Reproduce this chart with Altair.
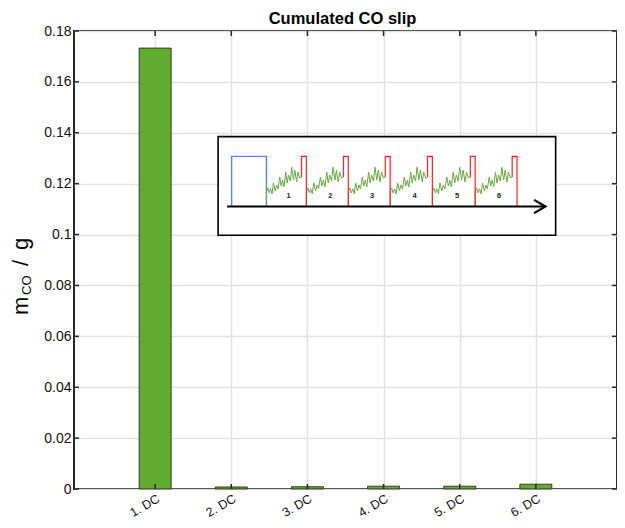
import altair as alt
import pandas as pd

# ---------------- data ----------------
categories = ["1. DC", "2. DC", "3. DC", "4. DC", "5. DC", "6. DC"]
cat_pos = [1, 2, 3, 4, 5, 6]
co_slip = [0.1733, 0.0008, 0.0009, 0.0011, 0.0011, 0.0019]
y_ticks = [0, 0.02, 0.04, 0.06, 0.08, 0.1, 0.12, 0.14, 0.16, 0.18]
chart_title = "Cumulated CO slip"

# inset schematic, local units: sx 0..349 across the box, sy 0..100 up the box
box_data = {"x0": 1.827, "x1": 6.26, "y0": 0.0997, "y1": 0.1385}
box_w, box_h = 349.3, 100.0
axis_sy = 29.2
arrow_sx = [9.3, 338.7]
arrow_head_sx = [327.0, 338.7, 327.0]
arrow_head_sy = [35.9, 29.2, 22.5]
blue_sx = [14, 14, 50, 50]
blue_sy = [29.2, 80, 80, 29.2]
green_start = [50, 91.3, 134.7, 178, 221.7, 266]
red_rise = [86.3, 129.7, 173, 216.7, 261, 304.3]
red_fall = [91.3, 134.7, 178, 221.7, 266, 309.3]
red_top = 80
green_t = [0, 0, 0.04, 0.08, 0.12, 0.16, 0.20, 0.25, 0.29, 0.33, 0.38, 0.42, 0.46,
           0.50, 0.55, 0.59, 0.63, 0.68, 0.72, 0.77, 0.81, 0.86, 0.90, 0.95, 1.0]
green_sy = [29.2, 44, 48, 43, 47, 42, 53, 45, 51, 47, 59, 50, 56,
            49, 64, 53, 61, 55, 69, 56, 66, 54, 64, 58, 59]
cycle_labels = ["1", "2", "3", "4", "5", "6"]
label_sx = [73, 116, 159.3, 203.3, 247.3, 290.7]
label_sy = 40

W, H = 543, 458
FONT = "Liberation Sans"


def bx(sx):
    return box_data["x0"] + sx / box_w * (box_data["x1"] - box_data["x0"])


def by(sy):
    return box_data["y0"] + sy / box_h * (box_data["y1"] - box_data["y0"])


# ---------------- tables ----------------
bars = pd.DataFrame({"x": cat_pos, "y": co_slip, "cat": categories})
box_df = pd.DataFrame({"x": [box_data["x0"]], "x2": [box_data["x1"]],
                       "y": [box_data["y0"]], "y2": [box_data["y1"]]})

arrow_rows = [{"x": bx(s), "y": by(axis_sy), "part": "shaft", "ord": i} for i, s in enumerate(arrow_sx)]
arrow_rows += [{"x": bx(s), "y": by(v), "part": "head", "ord": i}
               for i, (s, v) in enumerate(zip(arrow_head_sx, arrow_head_sy))]
arrow_df = pd.DataFrame(arrow_rows)

blue_df = pd.DataFrame({"x": [bx(s) for s in blue_sx], "y": [by(v) for v in blue_sy],
                        "ord": list(range(len(blue_sx)))})

green_rows, red_rows = [], []
for k in range(6):
    L = red_rise[k] - green_start[k]
    for i, (t, v) in enumerate(zip(green_t, green_sy)):
        green_rows.append({"x": bx(green_start[k] + t * L), "y": by(v), "cyc": k, "ord": i})
    pts = [(red_rise[k], green_sy[-1]), (red_rise[k], red_top), (red_fall[k], red_top), (red_fall[k], axis_sy)]
    for i, (s, v) in enumerate(pts):
        red_rows.append({"x": bx(s), "y": by(v), "cyc": k, "ord": i})
green_df = pd.DataFrame(green_rows)
red_df = pd.DataFrame(red_rows)
lab_df = pd.DataFrame({"x": [bx(s) for s in label_sx], "y": [by(label_sy)] * 6, "t": cycle_labels})

ytick_df = pd.DataFrame({"y": y_ticks})
xtick_df = pd.DataFrame({"x": cat_pos})

# ---------------- scales / axes ----------------
xs = alt.Scale(domain=[0, 7], nice=False, zero=False)
ys = alt.Scale(domain=[0, 0.18], nice=False, zero=True)
x_axis = alt.Axis(values=cat_pos, labelExpr="datum.value + '. DC'", labelAngle=-30,
                  labelAlign="right", labelBaseline="top", labelPadding=3, title=None,
                  grid=True, gridColor="#e2e2e2", gridWidth=1.5, domain=False, ticks=False,
                  labelFontSize=12.5, labelColor="#111", labelFont=FONT,
                  labelOverlap=False, labelFlush=False, labelBound=False)
y_axis = alt.Axis(values=y_ticks, format=".2~f", title=None, grid=True,
                  gridColor="#e2e2e2", gridWidth=1.5, domain=False, ticks=False,
                  labelFontSize=14, labelColor="#111", labelFont=FONT, labelPadding=3,
                  labelOverlap=False, labelFlush=False)


def X(field="x"):
    return alt.X(f"{field}:Q", scale=xs, axis=x_axis)


def Y(field="y"):
    return alt.Y(f"{field}:Q", scale=ys, axis=y_axis)


bar_layer = alt.Chart(bars).mark_bar(size=32, orient="vertical", color="#62ab31",
                                      stroke="#1a1a1a", strokeWidth=0.8).encode(x=X(), y=Y())

box_layer = alt.Chart(box_df).mark_rect(fill="white", stroke="black", strokeWidth=1.6).encode(
    x=X(), x2="x2", y=Y(), y2="y2")

blue_layer = alt.Chart(blue_df).mark_line(color="#5a86d6", strokeWidth=1.4).encode(
    x=X(), y=Y(), order="ord:Q")
green_layer = alt.Chart(green_df).mark_line(color="#6aa842", strokeWidth=1.0).encode(
    x=X(), y=Y(), detail="cyc:N", order="ord:Q")
red_layer = alt.Chart(red_df).mark_line(color="#ff2222", strokeWidth=1.2).encode(
    x=X(), y=Y(), detail="cyc:N", order="ord:Q")
arrow_layer = alt.Chart(arrow_df).mark_line(color="black", strokeWidth=2.2).encode(
    x=X(), y=Y(), detail="part:N", order="ord:Q")
lab_layer = alt.Chart(lab_df).mark_text(fontSize=7.5, fontWeight="bold", font=FONT,
                                         color="#222").encode(x=X(), y=Y(), text="t:N")

tick_style = dict(color="#262626", strokeWidth=1.5)
ytick_l = alt.Chart(ytick_df).mark_rule(**tick_style).encode(y=Y(), x=alt.value(0), x2=alt.value(5))
ytick_r = alt.Chart(ytick_df).mark_rule(**tick_style).encode(y=Y(), x=alt.value(W - 5), x2=alt.value(W))
xtick_t = alt.Chart(xtick_df).mark_rule(**tick_style).encode(x=X(), y=alt.value(0), y2=alt.value(5))
xtick_b = alt.Chart(xtick_df).mark_rule(**tick_style).encode(x=X(), y=alt.value(H - 5), y2=alt.value(H))


def text_piece(txt, size, xpix, ypix, angle=0, align="left", weight="normal"):
    return alt.Chart(pd.DataFrame({"t": [txt]})).mark_text(
        angle=angle, align=align, baseline="alphabetic", fontSize=size, font=FONT,
        color="black", fontWeight=weight
    ).encode(text="t:N", x=alt.value(xpix), y=alt.value(ypix))


ytitle = [text_piece("m", 22, -46, 284, angle=270), text_piece("CO", 13, -43, 264, angle=270),
          text_piece("/", 22, -46, 235, angle=270), text_piece("g", 22, -46, 219, angle=270)]
title_layer = text_piece(chart_title, 16.5, W / 2 - 3, -7, align="center", weight="bold")

chart = alt.layer(
    bar_layer, box_layer, blue_layer, green_layer, red_layer, arrow_layer, lab_layer,
    ytick_l, ytick_r, xtick_t, xtick_b, title_layer, *ytitle
).properties(
    width=W, height=H,
    autosize=alt.AutoSizeParams(type="none"),
    padding={"left": 66, "top": 23, "right": 0, "bottom": 31},
).configure_view(stroke="#262626", strokeWidth=2)

chart.save("out.html", embed_options={"renderer": "svg", "actions": False})
